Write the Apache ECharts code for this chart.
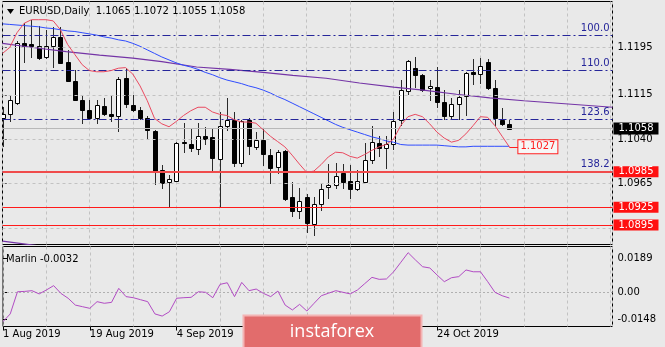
<!DOCTYPE html>
<html><head><meta charset="utf-8">
<script src="https://cdn.jsdelivr.net/npm/echarts@6.0.0/dist/echarts.min.js"></script>
<style>html,body{margin:0;padding:0;background:#e9e9e9;}#c{width:665px;height:347px;}</style>
</head><body><div id="c"></div><script>
// ---- data (bar index 0 = 1 Aug 2019 ... 70 = 7 Nov 2019) ----
const open  = [1.1075,1.1083,1.1102,1.1202,1.1201,1.1198,1.1179,1.1198,1.1212,1.1170,1.1138,1.1106,1.1090,1.1076,1.1096,1.1083,1.1079,1.1143,1.1097,1.1089,1.1076,1.1054,1.0988,1.0967,1.0970,1.1035,1.1032,1.1024,1.1045,1.1043,1.1007,1.1063,1.1072,1.0999,1.1072,1.1027,1.1039,1.1013,1.0993,1.1020,1.0942,1.0919,1.0943,1.0897,1.0930,1.0959,1.0963,1.0983,1.0969,1.0956,1.0967,1.1005,1.1033,1.1025,1.1032,1.1072,1.1122,1.1161,1.1148,1.1126,1.1128,1.1103,1.1080,1.1099,1.1113,1.1154,1.1151,1.1170,1.1127,1.1073,1.1065];
const high  = [1.1094,1.1114,1.1206,1.1236,1.1242,1.1231,1.1224,1.1230,1.1230,1.1190,1.1157,1.1113,1.1106,1.1106,1.1109,1.1113,1.1145,1.1161,1.1114,1.1094,1.1080,1.1056,1.0997,1.0979,1.1035,1.1068,1.1058,1.1067,1.1060,1.1058,1.1086,1.1109,1.1086,1.1072,1.1075,1.1052,1.1057,1.1024,1.1022,1.1022,1.0967,1.0958,1.0947,1.0942,1.0964,1.0998,1.0999,1.0998,1.0997,1.0988,1.1033,1.1063,1.1045,1.1046,1.1086,1.1140,1.1174,1.1179,1.1151,1.1140,1.1162,1.1123,1.1109,1.1123,1.1154,1.1175,1.1177,1.1175,1.1140,1.1092,1.1072];
const low   = [1.1027,1.1069,1.1098,1.1168,1.1177,1.1174,1.1176,1.1161,1.1167,1.1136,1.1104,1.1065,1.1072,1.1065,1.1079,1.1069,1.1052,1.1093,1.1086,1.1072,1.1041,1.0962,1.0956,1.0925,1.0968,1.1016,1.1018,1.1014,1.1030,1.0984,1.0925,1.1053,1.0993,1.0993,1.1013,1.1022,1.0994,1.0964,1.0981,1.0936,1.0908,1.0905,1.0882,1.0877,1.0919,1.0939,1.0956,1.0956,1.0939,1.0953,1.0966,1.0998,1.1010,1.0990,1.1021,1.1063,1.1114,1.1126,1.1120,1.1105,1.1092,1.1072,1.1072,1.1072,1.1080,1.1131,1.1133,1.1123,1.1063,1.1063,1.1055];
const close = [1.1083,1.1106,1.1202,1.1197,1.1198,1.1178,1.1198,1.1212,1.1168,1.1138,1.1106,1.1089,1.1076,1.1097,1.1082,1.1079,1.1142,1.1099,1.1089,1.1076,1.1055,1.0984,1.0966,1.0973,1.1033,1.1033,1.1025,1.1046,1.1040,1.1008,1.1062,1.1072,1.0999,1.1070,1.1028,1.1039,1.1015,1.0992,1.1018,1.0939,1.0919,1.0936,1.0898,1.0930,1.0956,1.0963,1.0977,1.0968,1.0956,1.0969,1.1004,1.1036,1.1025,1.1032,1.1070,1.1123,1.1172,1.1148,1.1123,1.1130,1.1103,1.1079,1.1099,1.1112,1.1152,1.1151,1.1164,1.1126,1.1075,1.1065,1.1058];

const maRed  = [1.1185,1.1195,1.1220,1.1236,1.1242,1.1242,1.1242,1.1240,1.1225,1.1200,1.1183,1.1166,1.1156,1.1154,1.1154,1.1156,1.1160,1.1161,1.1150,1.1130,1.1105,1.1075,1.1066,1.1061,1.1070,1.1080,1.1088,1.1094,1.1094,1.1086,1.1082,1.1080,1.1073,1.1069,1.1069,1.1067,1.1056,1.1045,1.1036,1.1027,1.1013,1.0998,1.0984,1.0986,1.0997,1.1010,1.1018,1.1017,1.1011,1.1008,1.1014,1.1021,1.1027,1.1031,1.1040,1.1063,1.1078,1.1082,1.1078,1.1066,1.1052,1.1042,1.1035,1.1038,1.1049,1.1063,1.1078,1.1077,1.1063,1.1045,1.1027];
const maBlue = [1.1235,1.1234,1.1233,1.1232,1.1231,1.1230,1.1228,1.1227,1.1225,1.1223,1.1222,1.1220,1.1218,1.1216,1.1213,1.1211,1.1208,1.1206,1.1202,1.1197,1.1191,1.1185,1.1179,1.1174,1.1169,1.1165,1.1162,1.1158,1.1153,1.1149,1.1144,1.1140,1.1137,1.1134,1.1130,1.1127,1.1123,1.1118,1.1112,1.1107,1.1101,1.1095,1.1089,1.1083,1.1077,1.1071,1.1065,1.1060,1.1056,1.1052,1.1048,1.1044,1.1041,1.1037,1.1035,1.1031,1.1030,1.1030,1.1030,1.1030,1.1030,1.1029,1.1028,1.1027,1.1027,1.1028,1.1028,1.1028,1.1028,1.1028,1.1028];
const purpleX = [0,4.2,8.8,13.4,18,22,26.8,31.4,36,40.1,44.7,49.3,54,58.1,62.7,67.3,72,84.25];
const purpleY = [1.1202,1.1195,1.1188,1.1182,1.1177,1.1171,1.1162,1.1158,1.1153,1.1148,1.1143,1.1135,1.1128,1.1123,1.1116,1.1110,1.1105,1.1094];
const trendX = [0,8];
const trendY = [1.08675,1.0855];

const marlin = [-0.0163,-0.0120,0.0003,0.0005,0.0009,-0.0009,0.0013,0.0037,-0.0006,-0.0033,-0.0071,-0.0080,-0.0089,-0.0052,-0.0061,-0.0056,0.0022,-0.0024,-0.0030,-0.0041,-0.0052,-0.0120,-0.0132,-0.0108,-0.0033,-0.0030,-0.0028,0.0003,0.0000,-0.0030,0.0044,0.0053,-0.0024,0.0055,0.0009,0.0018,-0.0006,-0.0024,0.0007,-0.0071,-0.0098,-0.0067,-0.0104,-0.0061,-0.0019,-0.0005,0.0009,0.0000,-0.0009,0.0013,0.0048,0.0083,0.0072,0.0074,0.0114,0.0167,0.0220,0.0180,0.0142,0.0135,0.0096,0.0059,0.0081,0.0087,0.0124,0.0114,0.0114,0.0059,0.0000,-0.0019,-0.0032];

const priceTicks = [1.1195,1.1115,1.1040,1.0965];
const gridPrices = [1.1195,1.1115,1.1040,1.0965,1.0890];
const redLevels = [1.0985,1.0925,1.0895];
const fibNames = ['100.0','110.0','123.6','138.2'];
const fibPrices = [1.1215,1.1156,1.1073,1.0986];
const bidPrice = 1.1058;
const marlinTicks = [0.0189,0,-0.0148];
const marlinTickLabels = ['0.0189','0.00','-0.0148'];
const tickIdx = [0,12,24,36,48,60];
const tickLabels = ['1 Aug 2019','19 Aug 2019','4 Sep 2019','20 Sep 2019','8 Oct 2019','24 Oct 2019'];
const titleText = 'EURUSD,Daily  1.1065 1.1072 1.1055 1.1058';
const marlinTitle = 'Marlin -0.0032';

// ---- chart ----
const FONT = 'DejaVu Sans';
const BG = '#e9e9e9';
const xMax = 84.25;
const chart = echarts.init(document.getElementById('c'));

const candleData = open.map((o,i)=>[i,o,close[i],low[i],high[i]]);
function renderCandle(params, api){
  const i=api.value(0), o=api.value(1), c=api.value(2), l=api.value(3), h=api.value(4);
  const pO=api.coord([i,o]), pC=api.coord([i,c]), pL=api.coord([i,l]), pH=api.coord([i,h]);
  const x=Math.round(pO[0]);
  const top=Math.round(Math.min(pO[1],pC[1])), bot=Math.round(Math.max(pO[1],pC[1]));
  const up=c>=o;
  return {type:'group',children:[
    {type:'line',shape:{x1:x+0.5,y1:Math.round(pH[1]),x2:x+0.5,y2:Math.round(pL[1])},style:{stroke:'#2a2a2a',lineWidth:1}},
    {type:'rect',shape:{x:x-1.5,y:top+0.5,width:4,height:Math.max(bot-top,0)},style:{fill:up?'#ffffff':'#000000',stroke:'#000000',lineWidth:1}}
  ]};
}

const gridLineItems = gridPrices.map(v=>({yAxis:v,lineStyle:{color:'#c2c2c2',type:[3,3],width:1},label:{show:false}}));
const fibItems = fibPrices.map((v,k)=>({yAxis:v,lineStyle:{color:'#26269a',type:[8,3,2,3],width:1},
  label:{show:true,position:'insideEndTop',formatter:fibNames[k],color:'#26269a',fontFamily:FONT,fontSize:10,distance:[3,2]}}));
const redItems = redLevels.map((v,k)=>({yAxis:v,lineStyle:{color:k===0?'#f04c4c':'#ff1a1a',type:'solid',width:k===0?2:1},
  label:{show:true,position:'end',formatter:v.toFixed(4),color:'#ffffff',backgroundColor:'#ff1010',padding:[1,5,0,5],fontFamily:FONT,fontSize:10,distance:1}}));
const bidItem = {yAxis:bidPrice,lineStyle:{color:'#b8b8b8',type:'solid',width:1},
  label:{show:true,position:'end',formatter:bidPrice.toFixed(4),color:'#ffffff',backgroundColor:'#000000',padding:[1,5,1,5],fontFamily:FONT,fontSize:10,distance:1}};

const lastIdx = maRed.length-1, lastRed = maRed[lastIdx];

const option = {
  animation:false,
  backgroundColor:BG,
  grid:[
    {left:2.5,top:1.5,width:610,height:243,show:true,borderColor:'#000',borderWidth:1,backgroundColor:'transparent'},
    {left:2.5,top:246.5,width:610,height:80,show:true,borderColor:'#000',borderWidth:1,backgroundColor:'transparent'}
  ],
  xAxis:[
    {gridIndex:0,type:'value',min:0,max:xMax,interval:6,axisLine:{show:false},axisTick:{show:false},axisLabel:{show:false},
      splitLine:{show:true,lineStyle:{color:'#c2c2c2',type:[3,3]}}},
    {gridIndex:1,type:'value',min:0,max:xMax,interval:6,axisLine:{show:false},axisTick:{show:false},axisLabel:{show:false},
      splitLine:{show:true,lineStyle:{color:'#c2c2c2',type:[3,3]}}},
    {gridIndex:1,type:'value',min:0,max:xMax,position:'bottom',axisLine:{show:false},
      axisTick:{show:true,customValues:tickIdx,length:4,lineStyle:{color:'#000'}},
      axisLabel:{show:true,customValues:tickIdx,formatter:v=>{const k=tickIdx.indexOf(v);return k>=0?tickLabels[k]:'';},
        align:'left',margin:3,color:'#000',fontFamily:FONT,fontSize:10},
      splitLine:{show:false}}
  ],
  yAxis:[
    {gridIndex:0,type:'value',position:'right',min:1.086195,max:1.127277,
      axisLine:{show:false},axisTick:{show:true,customValues:priceTicks,length:4,lineStyle:{color:'#000'}},
      axisLabel:{show:true,customValues:priceTicks,formatter:v=>v.toFixed(4),margin:5,color:'#000',fontFamily:FONT,fontSize:10},
      splitLine:{show:false}},
    {gridIndex:1,type:'value',position:'right',min:-0.01899,max:0.02543,
      axisLine:{show:false},axisTick:{show:true,customValues:marlinTicks,length:4,lineStyle:{color:'#000'}},
      axisLabel:{show:true,customValues:marlinTicks,formatter:v=>{const k=marlinTicks.indexOf(v);return k>=0?marlinTickLabels[k]:'';},
        margin:5,color:'#000',fontFamily:FONT,fontSize:10},
      splitLine:{show:false}}
  ],
  series:[
    {type:'line',xAxisIndex:0,yAxisIndex:0,data:[],silent:true,z:1,
      markLine:{silent:true,precision:6,symbol:['none','none'],animation:false,data:gridLineItems}},
    {type:'line',xAxisIndex:0,yAxisIndex:0,data:[],silent:true,z:2,clip:false,
      markLine:{silent:true,precision:6,symbol:['none','none'],animation:false,data:[bidItem].concat(fibItems,redItems)}},
    {type:'custom',xAxisIndex:0,yAxisIndex:0,data:candleData,renderItem:renderCandle,clip:true,z:3,
      encode:{x:0,y:[1,2,3,4]}},
    {type:'line',xAxisIndex:0,yAxisIndex:0,data:purpleX.map((x,k)=>[x,purpleY[k]]),symbol:'none',z:4,
      lineStyle:{color:'#7434a6',width:1.2}},
    {type:'line',xAxisIndex:0,yAxisIndex:0,data:trendX.map((x,k)=>[x,trendY[k]]),symbol:'none',z:4,clip:true,
      lineStyle:{color:'#7434a6',width:1.2}},
    {type:'line',xAxisIndex:0,yAxisIndex:0,data:maBlue.map((v,i)=>[i,v]),symbol:'none',z:4,
      lineStyle:{color:'#2f4cff',width:1}},
    {type:'line',xAxisIndex:0,yAxisIndex:0,data:maRed.map((v,i)=>[i,v]),symbol:'none',z:5,
      lineStyle:{color:'#ea4a60',width:1},
      markLine:{silent:true,precision:6,symbol:['none','none'],animation:false,
        data:[[{coord:[lastIdx,lastRed]},{coord:[lastIdx+1.25,lastRed]}]],
        lineStyle:{color:'#ff2020',type:'solid',width:1},
        label:{show:true,position:'end',formatter:lastRed.toFixed(4),color:'#ff2020',backgroundColor:'#f6f6f6',
          borderColor:'#ff2020',borderWidth:1,padding:[2,2,1,2],fontFamily:FONT,fontSize:10,distance:0}}},
    {type:'line',xAxisIndex:1,yAxisIndex:1,data:marlin.map((v,i)=>[i,v]),symbol:'none',z:5,
      lineStyle:{color:'#b24cc4',width:1},
      markLine:{silent:true,precision:6,symbol:['none','none'],animation:false,
        data:[{yAxis:0}],lineStyle:{color:'#b0b0b0',type:[2,2],width:1},label:{show:false}}}
  ],
  graphic:[
    {type:'polygon',shape:{points:[[7,9],[14,9],[10.5,14]]},style:{fill:'#000'},z:20},
    {type:'text',left:19,top:6,style:{text:titleText,fill:'#000',font:'10px "DejaVu Sans"'},z:20},
    {type:'text',left:6,top:254,style:{text:marlinTitle,fill:'#000',font:'10px "DejaVu Sans"'},z:20},
    {type:'rect',shape:{x:243.5,y:315.5,width:178,height:34},style:{fill:'#e26c6c',stroke:'#f3b4b4',lineWidth:2},z:30},
    {type:'text',x:332,y:332,style:{text:'instaforex',fill:'#ffffff',font:'18px "Open Sans"',align:'center',verticalAlign:'middle'},z:31}
  ]
};
chart.setOption(option);
</script></body></html>
